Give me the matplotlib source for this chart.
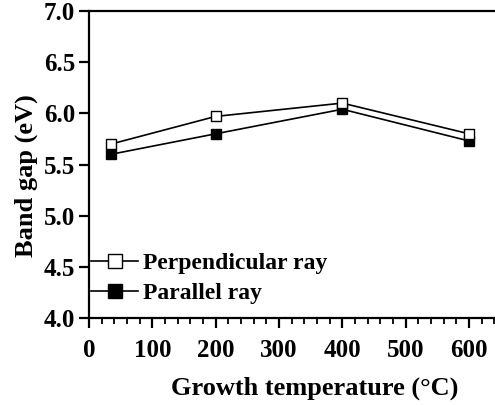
import matplotlib
matplotlib.use("Agg")
import matplotlib.pyplot as plt
from matplotlib.ticker import MultipleLocator

# growth temperature (C) and measured band gap (eV)
temps = [35, 200, 400, 600]
gap_perp = [5.70, 5.97, 6.10, 5.80]
gap_par = [5.60, 5.80, 6.04, 5.73]
xticks = [0, 100, 200, 300, 400, 500, 600]
yticks = [4.0, 4.5, 5.0, 5.5, 6.0, 6.5, 7.0]

plt.rcParams['font.family'] = ['Liberation Serif', 'DejaVu Serif']
plt.rcParams['font.weight'] = 'bold'

fig = plt.figure(figsize=(4.95, 4.05), dpi=100)
ax = fig.add_axes([89 / 495, 1 - 318 / 405, (495 - 89) / 495, (318 - 11) / 405])

ax.plot(temps, gap_par, '-s', color='black', mfc='black', mec='black',
        ms=7.5, lw=1.2, label='Parallel ray', zorder=3)
ax.plot(temps, gap_perp, '-s', color='black', mfc='white', mec='black',
        ms=7.5, lw=1.2, label='Perpendicular ray', zorder=4)

ax.set_xlim(0, (495 - 89) / 0.6333)
ax.set_ylim(4.0, 7.0)
ax.set_xticks(xticks)
ax.set_yticks(yticks)
ax.set_yticklabels([f"{v:.1f}" for v in yticks])
ax.xaxis.set_minor_locator(MultipleLocator(20))

ax.spines['right'].set_visible(False)
for s in ['left', 'bottom', 'top']:
    ax.spines[s].set_linewidth(1.6)

ax.tick_params(axis='both', which='major', direction='out', length=7, width=1.6,
               labelsize=18, pad=3)
ax.tick_params(axis='x', which='minor', direction='out', length=4, width=1.3)
ax.tick_params(axis='x', which='major', pad=8)

ax.set_xlabel('Growth temperature (°C)', fontsize=19, fontweight='bold')
ax.set_ylabel('Band gap (eV)', fontsize=19, fontweight='bold')
ax.xaxis.set_label_coords(0.557, -0.19)
ax.yaxis.set_label_coords(-0.126, 0.463)

handles, labels = ax.get_legend_handles_labels()
leg = ax.legend(handles[::-1], labels[::-1], loc='lower left', frameon=False,
                fontsize=17, handlelength=2.0, handletextpad=0.2,
                markerscale=1.3, borderaxespad=0.0, labelspacing=0.36,
                borderpad=0.0, bbox_to_anchor=(0.005, 0.045))
for t in leg.get_texts():
    t.set_fontweight('bold')

fig.savefig('out.png', dpi=100)
